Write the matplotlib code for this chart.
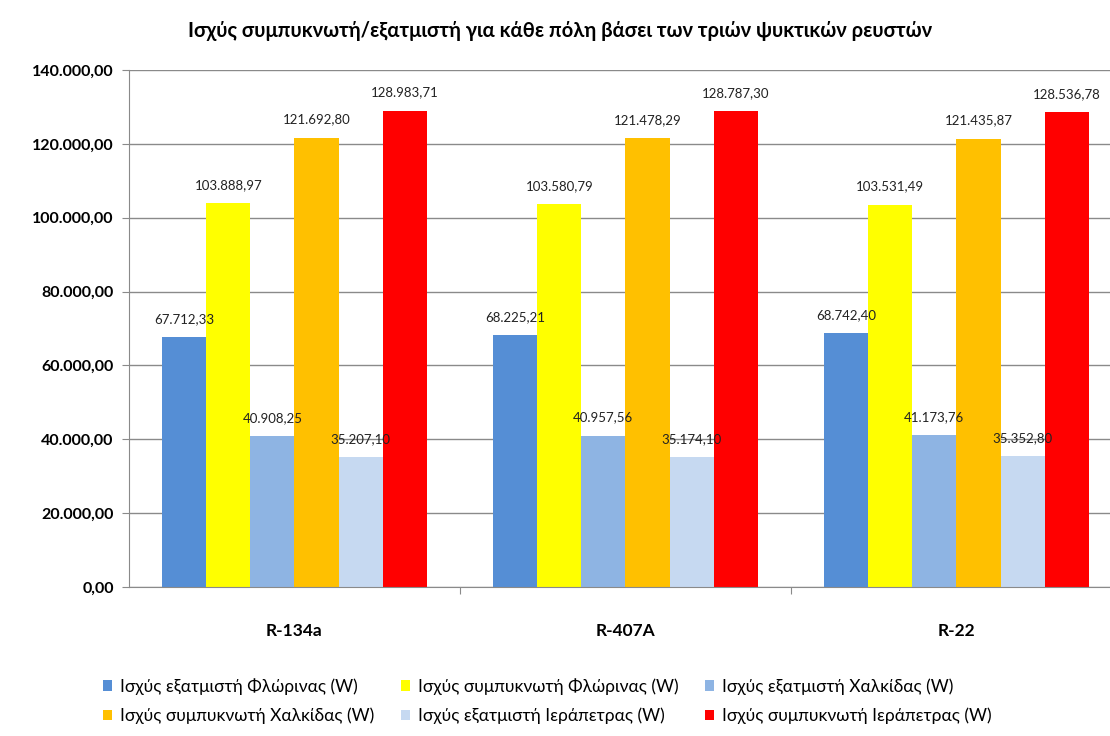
import numpy as np
import matplotlib
matplotlib.use("Agg")
import matplotlib.pyplot as plt
from matplotlib.ticker import FuncFormatter

# data
fluids = ["R-134a", "R-407A", "R-22"]
series_names = ["Ισχύς εξατμιστή Φλώρινας (W)", "Ισχύς συμπυκνωτή Φλώρινας (W)",
                "Ισχύς εξατμιστή Χαλκίδας (W)", "Ισχύς συμπυκνωτή Χαλκίδας (W)",
                "Ισχύς εξατμιστή Ιεράπετρας (W)", "Ισχύς συμπυκνωτή Ιεράπετρας (W)"]
evap_florina = [67712.33, 68225.21, 68742.40]
cond_florina = [103888.97, 103580.79, 103531.49]
evap_chalkida = [40908.25, 40957.56, 41173.76]
cond_chalkida = [121692.80, 121478.29, 121435.87]
evap_ierapetra = [35207.10, 35174.10, 35352.80]
cond_ierapetra = [128983.71, 128787.30, 128536.78]
colors = ["#558ED5", "#FFFF00", "#8EB4E3", "#FFC000", "#C6D9F1", "#FF0000"]

series = [evap_florina, cond_florina, evap_chalkida,
          cond_chalkida, evap_ierapetra, cond_ierapetra]

plt.rcParams['font.family'] = ['Lato', 'DejaVu Sans']


def gr(v, pos=None):
    # greek number format: 1.234,56
    s = f"{v:,.2f}"
    return s.replace(",", "X").replace(".", ",").replace("X", ".")


fig = plt.figure(figsize=(11.1, 7.36), dpi=100)
ax = fig.add_axes([0.1162, 0.2024, 1.0 - 0.1162, 0.9049 - 0.2024])

x = np.arange(len(fluids))
w = 0.8 / 6
handles = []
for i, (vals, c) in enumerate(zip(series, colors)):
    pos = x - 0.4 + w * (i + 0.5)
    b = ax.bar(pos, vals, w, color=c, label=series_names[i], zorder=2)
    handles.append(b)
    for px, v in zip(pos, vals):
        ax.text(px, v + 3300, gr(v), ha="center", va="bottom", fontsize=9.5,
                color="#222222", zorder=3)

ax.set_ylim(0, 140000)
ax.set_xlim(-0.5, -0.5 + 981 / 331)
ax.set_yticks(np.arange(0, 140001, 20000))
ax.yaxis.set_major_formatter(FuncFormatter(gr))
ax.grid(axis="y", color="#8a8a8a", linewidth=1, zorder=0)
ax.set_axisbelow(True)

ax.set_xticks([0.5, 1.5])
ax.set_xticklabels([])
ax.set_xticks(x, minor=True)
ax.set_xticklabels(fluids, minor=True, fontsize=12.5, fontweight="bold")
ax.tick_params(axis="x", which="minor", length=0, pad=26)
ax.tick_params(axis="x", which="major", length=5, color="#8a8a8a")
ax.tick_params(axis="y", length=5, color="#8a8a8a", labelsize=11.5, pad=6)
for lab in ax.get_yticklabels():
    lab.set_fontweight("bold")

for s in ["top", "right"]:
    ax.spines[s].set_visible(False)
ax.spines["left"].set_color("#8a8a8a")
ax.spines["bottom"].set_color("#8a8a8a")

fig.text(0.505, 0.958, "Ισχύς συμπυκνωτή/εξατμιστή για κάθε πόλη βάσει των τριών ψυκτικών ρευστών",
         ha="center", va="center", fontsize=14.5, fontweight="bold")

order = [0, 3, 1, 4, 2, 5]
leg = fig.legend([handles[i] for i in order], [series_names[i] for i in order],
                 ncol=3, loc="center", bbox_to_anchor=(0.493, 0.0475), frameon=False,
                 fontsize=12.5, handlelength=0.55, handleheight=0.55, handletextpad=0.45,
                 columnspacing=1.5, labelspacing=0.75)

fig.savefig("out.png", dpi=100)
